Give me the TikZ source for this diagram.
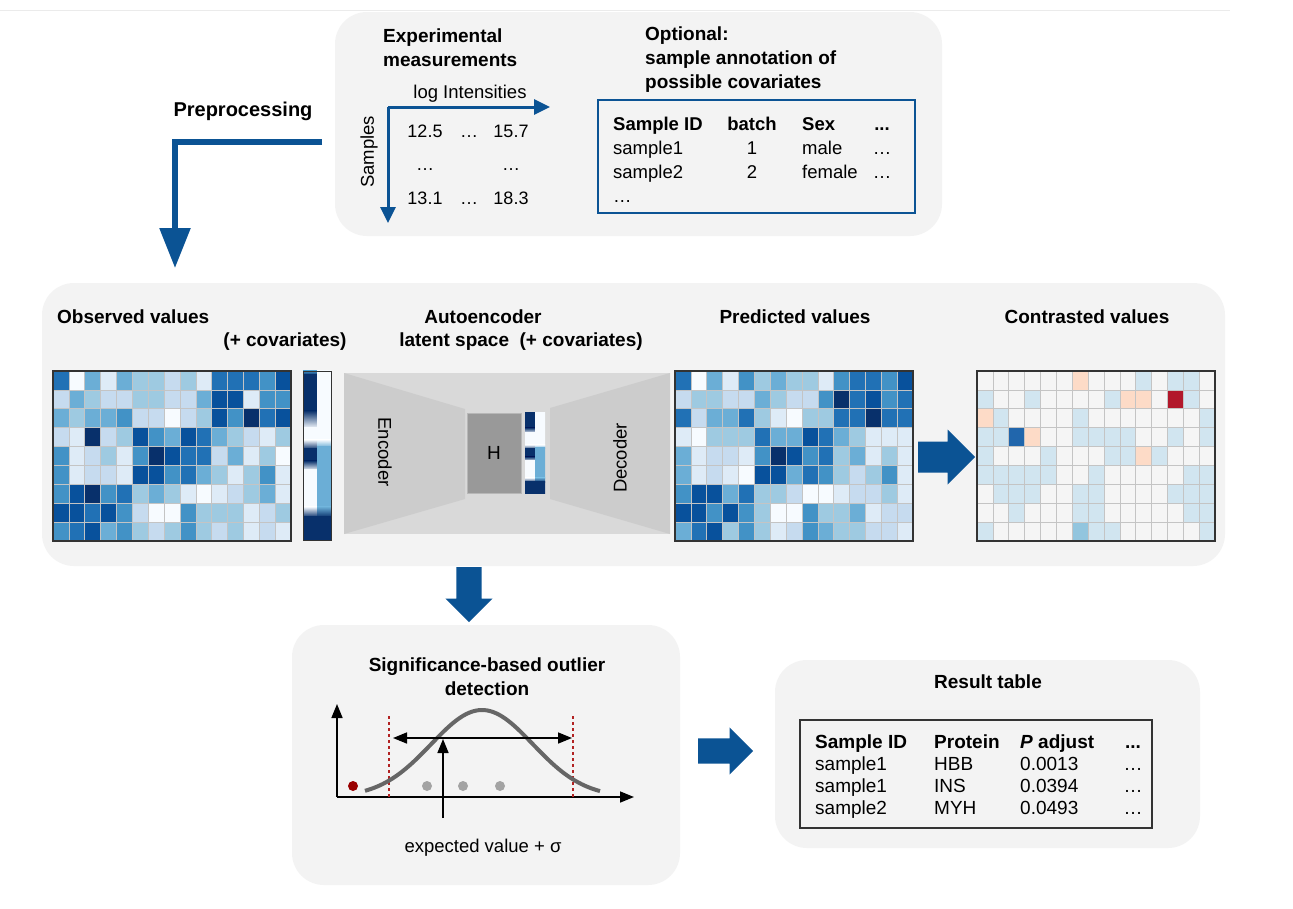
\documentclass[tikz,border=0pt]{standalone}
\usepackage{fontspec}
\setmainfont{Liberation Sans}
\usepackage{tikz}
\usetikzlibrary{arrows.meta, shapes.arrows, positioning}

\definecolor{panelgray}{HTML}{F3F3F3}
\definecolor{slideblue}{HTML}{0B5394}
\definecolor{aelight}{HTML}{D9D9D9}
\definecolor{aedark}{HTML}{CCCCCC}
\definecolor{hgray}{HTML}{999999}
\definecolor{hborder}{HTML}{B7B7B7}
\definecolor{gridgray}{HTML}{C4C4C4}
\definecolor{framegray}{HTML}{333333}
\definecolor{outred}{HTML}{990000}
\definecolor{dotgray}{HTML}{A3A3A3}
\definecolor{sigred}{HTML}{B22222}
\definecolor{curvegray}{HTML}{666666}
% blues scale of the value maps
\definecolor{b0}{HTML}{F7FBFF}
\definecolor{b1}{HTML}{DEEBF7}
\definecolor{b2}{HTML}{C6DBEF}
\definecolor{b3}{HTML}{9ECAE1}
\definecolor{b4}{HTML}{6BAED6}
\definecolor{b5}{HTML}{4292C6}
\definecolor{b6}{HTML}{2171B5}
\definecolor{b7}{HTML}{08519C}
\definecolor{b8}{HTML}{08306B}
% diverging scale of the contrasted map
\definecolor{c0}{HTML}{F5F5F5}
\definecolor{c1}{HTML}{D1E5F0}
\definecolor{c2}{HTML}{92C5DE}
\definecolor{c3}{HTML}{2166AC}
\definecolor{c4}{HTML}{FDDBC7}
\definecolor{c5}{HTML}{B2182B}

\tikzset{
  panel/.style = {fill = panelgray, rounded corners = 32pt},
  ttl/.style = {font = \bfseries\fontsize{19}{24}\selectfont, inner sep = 0pt},
  txt/.style = {font = \fontsize{18.5}{24}\selectfont, inner sep = 0pt},
  hmcell/.style = {draw = gridgray, line width = 0.6pt},
  hmframe/.style = {draw = framegray, line width = 1.3pt},
  axisarrow/.style = {slideblue, line width = 3pt, -{Triangle[width = 15pt, length = 16pt]}},
  plotaxis/.style = {black, line width = 1.6pt, -{Triangle[width = 11pt, length = 14pt]}},
  blockarrow/.style = {single arrow, fill = slideblue, inner sep = 0pt, text depth = 0pt,
    single arrow head extend = 11pt, anchor = tail}
}

% value map: #1,#2 top left corner, #3 colour prefix, #4 rows
\newcommand{\hmgrid}[4]{%
  \foreach \rowvals [count = \r] in {#4} {
    \foreach \v [count = \c] in \rowvals {
      \filldraw[hmcell, fill = #3\v] ({#1 + (\c - 1) * 15.867}, {#2 + (\r - 1) * 18.889}) rectangle ++(15.867, 18.889);
    }
  }
  \draw[hmframe] (#1, #2) rectangle ++(238, 170);
}
% covariate strip: #1 left x, #2 width, #3 segments y0/y1/top/bottom
\newcommand{\covbar}[3]{%
  \foreach \ya/\yb/\ctop/\cbot in {#3} {
    \shade[top color = \ctop, bottom color = \cbot] (#1, \ya - 0.3) rectangle ({#1 + #2}, \yb + 0.3);
  }
}

\begin{document}
\begin{tikzpicture}[x = 1pt, y = -1pt]
  \fill[white] (0, 0) rectangle (1293, 908);
  \useasboundingbox (0, 0) rectangle (1293, 908);
  \draw[black!8, line width = 0.8pt] (0, 10) -- (1230, 10);

  % panels
  \fill[panel] (335, 12) rectangle (942, 236);
  \fill[panel] (42, 283) rectangle (1225, 566);
  \fill[panel] (292, 625) rectangle (680, 885);
  \fill[panel] (775, 660) rectangle (1200, 848);

  % input data
  \node[ttl, align = left, anchor = west] (expT) at (383, 48) {Experimental\\measurements};
  \node[ttl, align = left, anchor = west] (optT) at (645, 60) {Optional:\\sample annotation of\\possible covariates};
  \node[txt] (logI) at (470, 94) {log Intensities};
  \node[txt, rotate = 90] (smpl) at (369, 152) {Samples};
  \coordinate (axO) at (388, 107);
  \coordinate (axI) at (550, 107);
  \coordinate (axS) at (388, 223);
  \draw[axisarrow] (axO) -- (axI);
  \draw[axisarrow] (axO) -- (axS);
  \node[txt, align = center, anchor = north, font = \fontsize{18}{33.5}\selectfont] (numA) at (425, 124.5) {12.5\\…\\13.1};
  \node[txt, align = center, anchor = north, font = \fontsize{18}{67}\selectfont] (numB) at (469, 124.5) {\vphantom{1}…\\…};
  \node[txt, align = center, anchor = north, font = \fontsize{18}{33.5}\selectfont] (numC) at (511, 124.5) {15.7\\…\\18.3};

  \draw[slideblue, line width = 2.5pt] (598, 100) rectangle (915, 213);
  \node[txt, align = left, anchor = north west] (tblA) at (613, 117) {\textbf{Sample ID}\\sample1\\sample2\\…};
  \node[txt, align = center, anchor = north] (tblB) at (752, 117) {\textbf{batch}\\1\\2};
  \node[txt, align = left, anchor = north west] (tblC) at (802, 117) {\textbf{Sex}\\male\\female};
  \node[txt, align = center, anchor = north] (tblD) at (882, 117) {\textbf{\vphantom{S}...}\\…\\…};

  % preprocessing
  \node[ttl, font = \bfseries\fontsize{20}{24}\selectfont] (prepT) at (243, 111) {Preprocessing};
  \coordinate (prepA) at (322, 142);
  \coordinate (prepB) at (175, 268);
  \draw[slideblue, line width = 5.5pt, -{Triangle[width = 30pt, length = 40pt]}] (prepA) -| (prepB);

  % model row
  \node[ttl, anchor = west] (obsT) at (57, 317) {Observed values};
  \node[ttl] (covT) at (285, 342) {(+ covariates)};
  \node[ttl] (aeT) at (483, 317) {Autoencoder};
  \node[ttl] (latT) at (521, 342) {latent space\ \ (+ covariates)};
  \node[ttl] (predT) at (795, 317) {Predicted values};
  \node[ttl] (contT) at (1087, 317) {Contrasted values};

  \hmgrid{53}{371}{b}{
    {6,0,4,1,4,3,3,2,3,1,6,6,6,5,7},
    {2,4,3,2,2,3,3,2,2,4,7,7,1,5,5},
    {4,3,4,4,5,2,2,0,2,3,7,5,8,6,7},
    {2,1,8,2,3,7,5,4,7,6,4,3,2,1,3},
    {5,1,2,3,1,5,8,7,6,6,2,4,1,3,0},
    {5,1,2,2,1,7,7,5,6,4,3,1,3,5,1},
    {5,7,8,5,6,3,4,3,1,0,1,2,3,4,1},
    {7,7,6,7,5,2,0,0,5,3,3,3,1,2,3},
    {5,6,7,4,5,3,2,3,5,3,2,3,1,2,1}}

  \covbar{303}{14}{371/375/b5/b8, 375/411/b8/b8, 411/428/b8/b0, 428/440/b0/b0, 440/449/b0/b8,
    449/461/b8/b8, 461/470/b8/b0, 470/507/b0/b0, 507/517/b0/b8, 517/540/b8/b8}
  \covbar{317}{14}{371/440/b0/b0, 440/447/b0/b4, 447/507/b4/b4, 507/517/b4/b8, 517/540/b8/b8}
  \draw[draw = framegray, line width = 1pt] (303, 371) rectangle (331, 540);

  % autoencoder
  \fill[aelight] (344, 373) rectangle (670, 534);
  \fill[aedark] (344, 373) -- (465, 409) -- (465, 499) -- (344, 534) -- cycle;
  \fill[aedark] (670, 373) -- (550, 408) -- (550, 499) -- (670, 534) -- cycle;
  \node[txt, rotate = -90] (enc) at (385, 452) {Encoder};
  \node[txt, rotate = 90] (dec) at (620, 458) {Decoder};
  \node[draw = hborder, fill = hgray, line width = 1pt, minimum width = 54pt, minimum height = 80pt,
    inner sep = 0pt, font = \fontsize{19}{24}\selectfont] (hbox) at (494, 453) {H};
  \covbar{525}{10}{413/428/b8/b8, 428/433/b8/b0, 433/445/b0/b0, 445/449/b0/b8, 449/457/b8/b8,
    457/461/b8/b0, 461/478/b0/b0, 478/482/b0/b8, 482/493/b8/b8}
  \covbar{535}{10}{413/445/b0/b0, 445/448/b0/b4, 448/478/b4/b4, 478/482/b4/b8, 482/493/b8/b8}

  \hmgrid{675}{371}{b}{
    {6,0,4,1,5,3,4,3,3,1,5,6,6,5,7},
    {2,3,3,2,2,4,3,2,2,5,8,6,7,5,6},
    {6,2,4,4,6,3,1,0,3,3,6,6,8,6,6},
    {1,0,3,3,3,6,4,4,7,6,4,3,1,1,1},
    {4,1,2,2,1,5,8,7,5,6,3,4,1,3,1},
    {4,1,2,1,0,7,7,4,6,5,3,2,3,5,1},
    {5,7,7,4,6,3,3,2,0,0,1,2,2,3,1},
    {7,7,5,7,5,3,0,0,5,3,3,4,1,2,2},
    {4,6,7,3,5,3,1,2,5,4,3,3,2,2,1}}

  \node[blockarrow, minimum height = 57pt, minimum width = 55pt, text height = 28pt, text width = 0pt] (arrCon) at (918, 457) {};

  \hmgrid{977}{371}{c}{
    {0,0,0,0,0,0,4,0,0,0,1,0,1,1,0},
    {1,0,0,1,0,0,0,0,1,4,4,0,5,1,0},
    {4,1,0,0,0,0,1,0,0,0,0,0,0,0,1},
    {1,1,3,4,0,0,1,1,1,1,0,0,1,0,1},
    {1,0,0,0,1,0,0,0,1,1,4,1,0,0,0},
    {1,1,1,1,1,0,0,1,0,0,0,0,0,1,1},
    {0,1,1,1,0,0,1,1,0,0,0,0,1,1,1},
    {0,0,1,0,0,0,1,1,0,0,0,0,0,1,1},
    {1,0,0,0,0,0,2,1,1,0,0,0,0,0,1}}

  \node[blockarrow, rotate = -90, minimum height = 55pt, minimum width = 47pt, text height = 25pt, text width = 0pt] (arrDown) at (469, 567) {};

  % outlier test
  \node[ttl, align = center] (sigT) at (487, 676.5) {Significance-based outlier\\detection};
  \coordinate (pO) at (337, 797);
  \coordinate (pY) at (337, 704);
  \coordinate (pX) at (634, 797);
  \draw[plotaxis] (pO) -- (pY);
  \draw[plotaxis] (pO) -- (pX);
  \draw[sigred, dashed, line width = 1.3pt] (389, 716) -- (389, 797);
  \draw[sigred, dashed, line width = 1.3pt] (573, 716) -- (573, 797);
  \draw[curvegray, line width = 4pt] plot[domain = 365:600, samples = 80, smooth]
    (\x, {797 - 87 * exp(-((\x - 482) / 72) * ((\x - 482) / 72))});
  \coordinate (sdL) at (393, 738);
  \coordinate (sdR) at (572, 738);
  \draw[black, line width = 1.6pt, {Triangle[width = 11pt, length = 14pt]}-{Triangle[width = 11pt, length = 14pt]}] (sdL) -- (sdR);
  \coordinate (evB) at (443, 818);
  \coordinate (evT) at (443, 739);
  \draw[black, line width = 1.6pt, -{Triangle[width = 11pt, length = 14pt]}] (evB) -- (evT);
  \fill[outred] (353, 786) circle (5pt);
  \foreach \dx in {427, 463, 500}
    \fill[dotgray] (\dx, 786) circle (5pt);
  \node[txt] (expV) at (483, 848) {expected value + σ};

  \node[blockarrow, minimum height = 55pt, minimum width = 47pt, text height = 25pt, text width = 0pt] (arrRes) at (698, 751) {};

  % result table
  \node[ttl] (resT) at (988, 682) {Result table};
  \draw[draw = framegray, line width = 1.5pt] (800, 720) rectangle (1152, 828);
  \node[txt, align = left, anchor = north west, font = \fontsize{19}{22}\selectfont] (resA) at (815, 735) {\textbf{Sample ID}\\sample1\\sample1\\sample2};
  \node[txt, align = left, anchor = north west, font = \fontsize{19}{22}\selectfont] (resB) at (934, 735) {\textbf{Protein}\\HBB\\INS\\MYH};
  \node[txt, align = left, anchor = north west, font = \fontsize{19}{22}\selectfont] (resC) at (1020, 735) {\textbf{\textit{P} adjust}\\0.0013\\0.0394\\0.0493};
  \node[txt, align = center, anchor = north, font = \fontsize{19}{22}\selectfont] (resD) at (1133, 735) {\textbf{\vphantom{S}...}\\…\\…\\…};
\end{tikzpicture}
\end{document}
